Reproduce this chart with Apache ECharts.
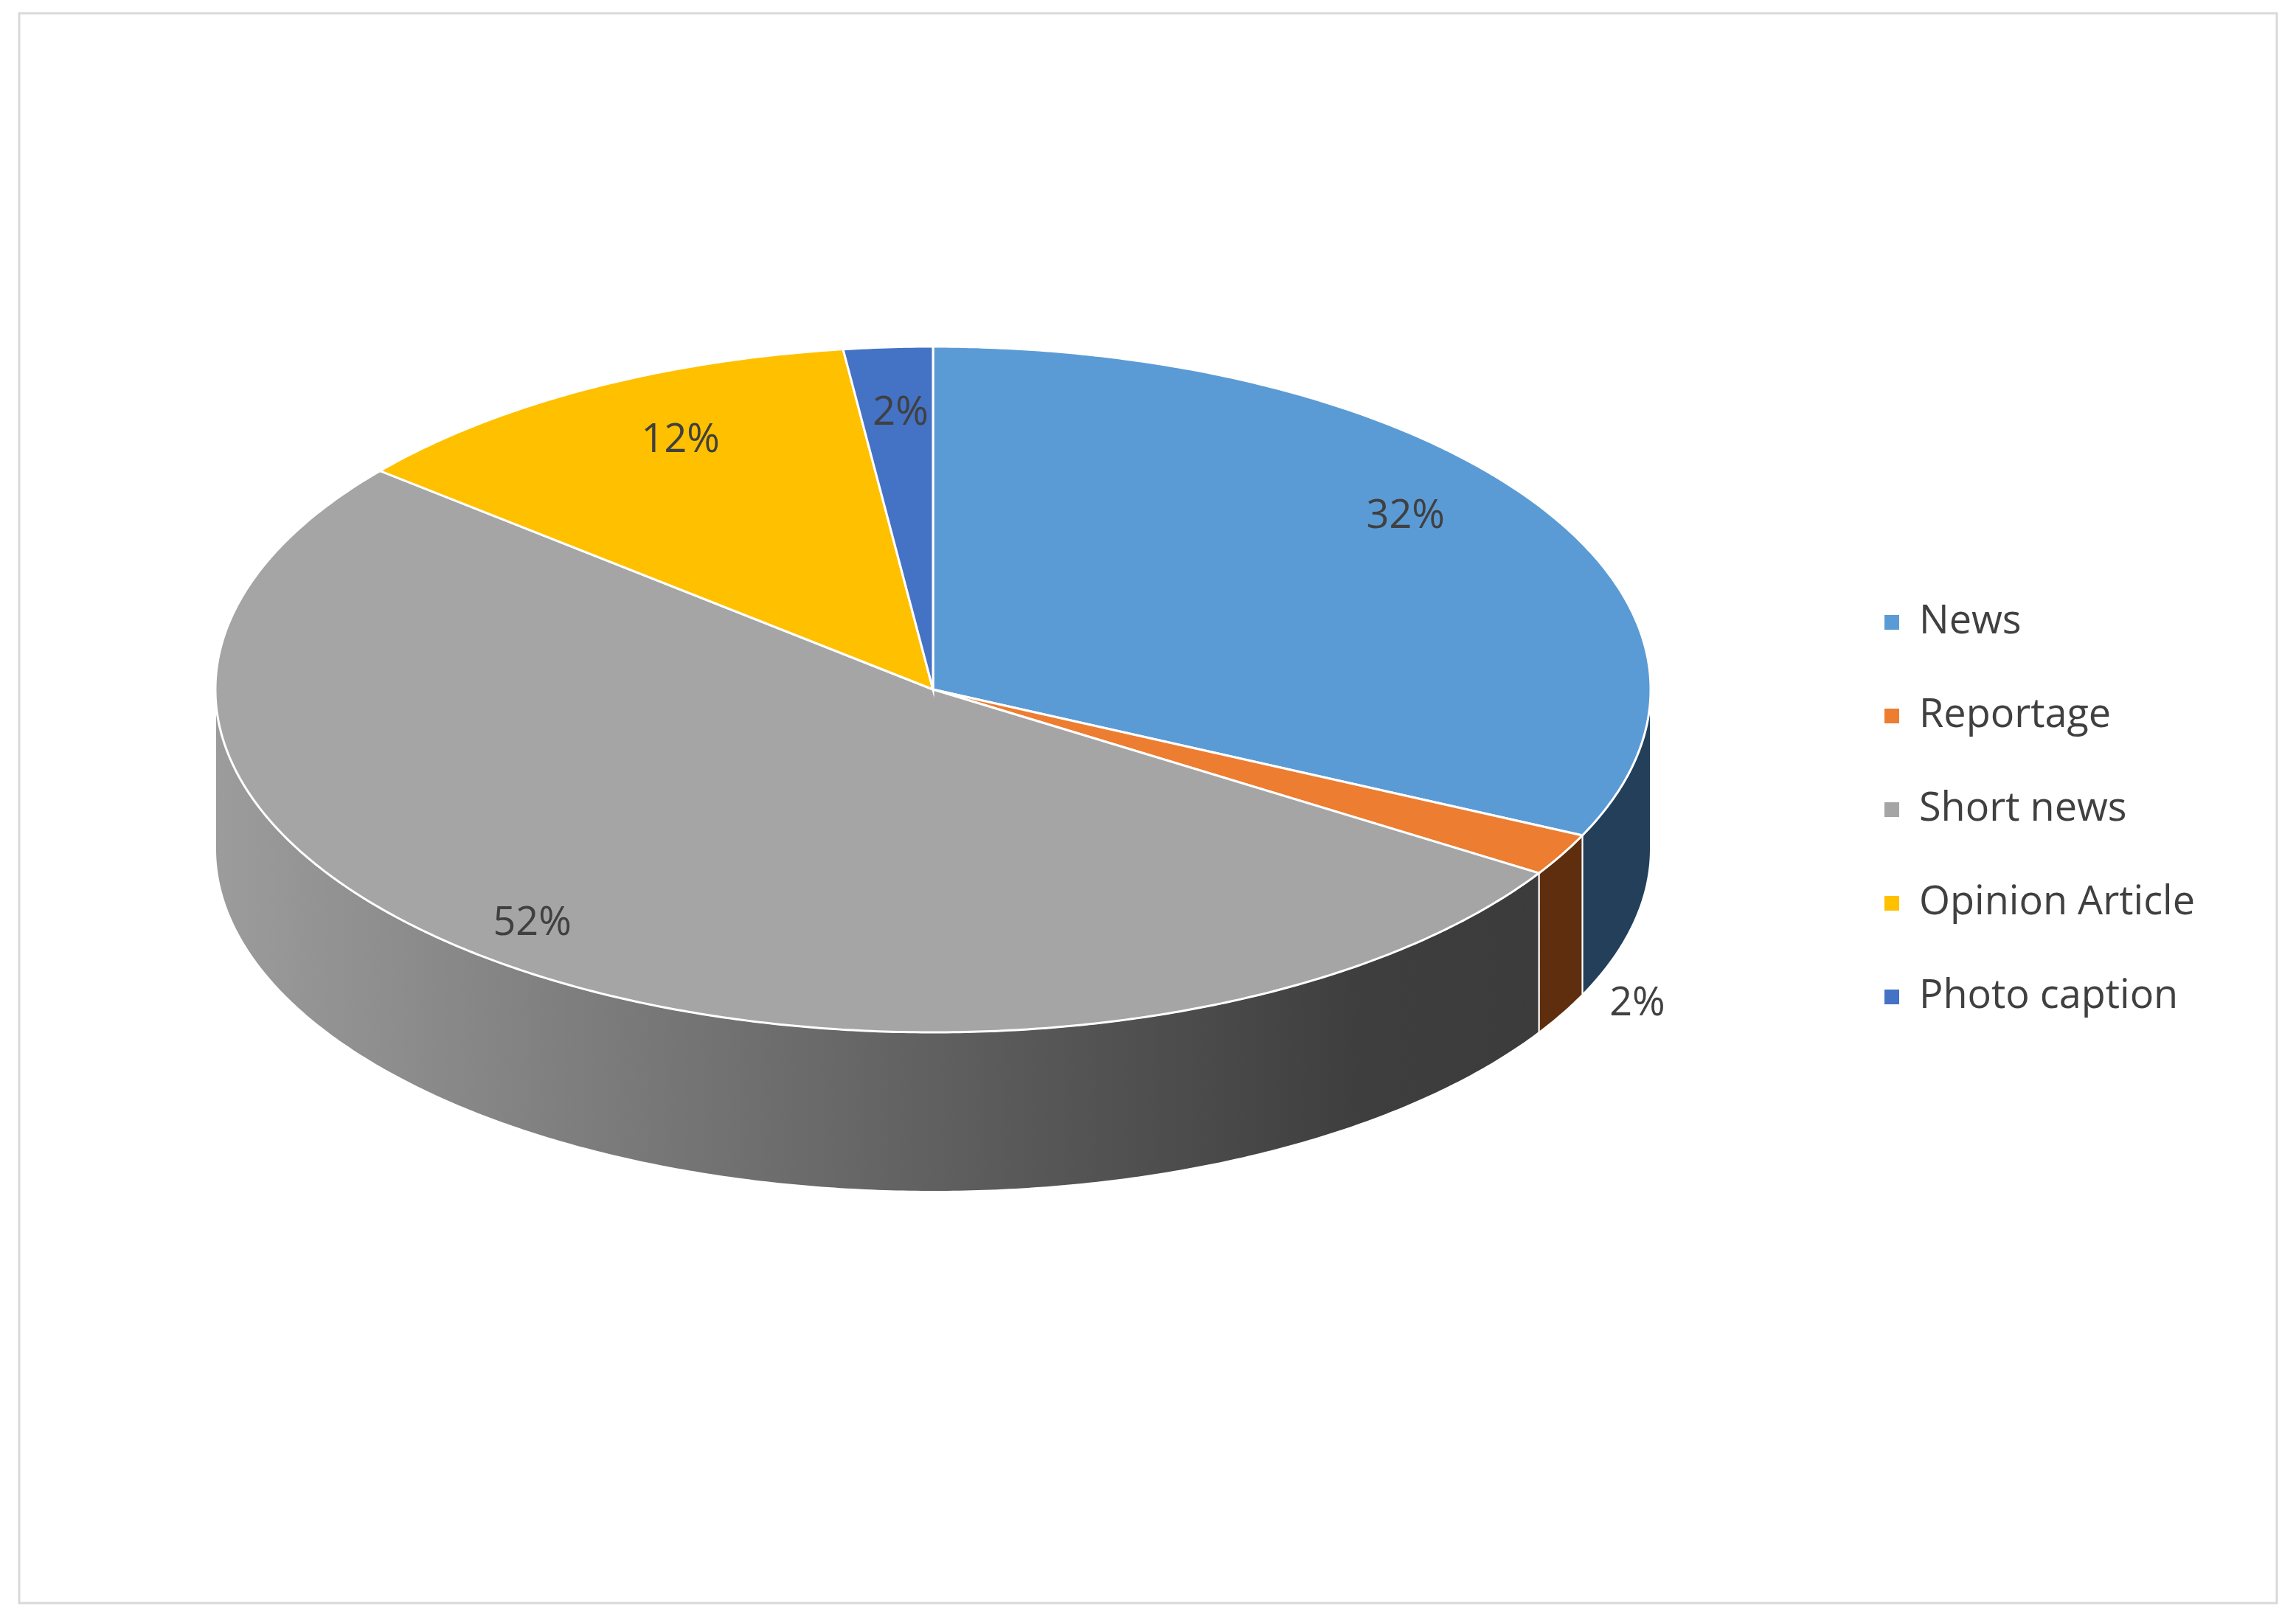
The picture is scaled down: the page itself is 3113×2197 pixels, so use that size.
<!DOCTYPE html>
<html><head><meta charset="utf-8">
<script src="https://cdn.jsdelivr.net/npm/echarts@6/dist/echarts.min.js"></script>
<style>html,body{margin:0;background:#fff}#c{width:3113px;height:2197px}</style>
</head><body><div id="c"></div>
<script>
const categories=['News','Reportage','Short news','Opinion Article','Photo caption'];
const values=[32,2,52,12,2];
const topColors=['#5B9BD5','#ED7D31','#A5A5A5','#FFC000','#4472C4'];
const sideColors=['#233F5A','#5F2E0E',null,'#6B5000','#1D3057'];
const labelR=[0.78,1.12,0.95,0.73,0.72];
const total=values.reduce((a,b)=>a+b,0);
const cx=1265,cy=935,rx=973,ry=465,dep=216,labelShift=-40;
function pt(t,off){const r=t*Math.PI/180;return [cx+rx*Math.sin(r),cy-ry*Math.cos(r)+(off||0)];}
function renderItem(params,api){
  const i=params.dataIndex;
  let s=0;for(let k=0;k<i;k++)s+=values[k];
  const a0=s/total*360,a1=(s+values[i])/total*360;
  const children=[];
  const b0=Math.max(a0,90),b1=Math.min(a1,270);
  if(b1>b0){
    const top=[],bot=[];
    for(let t=b0;t<b1;t+=0.5){top.push(pt(t));bot.push(pt(t,dep));}
    top.push(pt(b1));bot.push(pt(b1,dep));
    const fill=sideColors[i]||{type:'linear',x:cx-rx,y:0,x2:cx+rx,y2:0,global:true,
      colorStops:[{offset:0,color:'#9c9c9c'},{offset:0.55,color:'#5a5a5a'},{offset:0.8,color:'#3e3e3e'},{offset:1,color:'#3a3a3a'}]};
    children.push({type:'polygon',z2:0,shape:{points:top.concat(bot.reverse())},style:{fill:fill,stroke:'#fff',lineWidth:2}});
  }
  const pts=[[cx,cy]];
  for(let t=a0;t<a1;t+=0.5)pts.push(pt(t));
  pts.push(pt(a1));
  children.push({type:'polygon',z2:10,shape:{points:pts},style:{fill:topColors[i],stroke:'#fff',lineWidth:3}});
  const m=(a0+a1)/2*Math.PI/180,f=labelR[i];
  let lx=cx+rx*f*Math.sin(m),ly=cy+labelShift-ry*f*Math.cos(m);
  if(f>1)ly+=dep;
  children.push({type:'text',z2:20,style:{x:lx,y:ly,text:Math.round(values[i]/total*100)+'%',
    fill:'#404040',font:'54px "Open Sans", sans-serif',align:'center',verticalAlign:'middle'}});
  return {type:'group',children};
}
const chart=echarts.init(document.getElementById('c'));
chart.setOption({
  animation:false,
  graphic:[{type:'rect',shape:{x:26,y:18,width:3061,height:2156},style:{fill:'none',stroke:'#d9d9d9',lineWidth:3}}],
  legend:{orient:'vertical',left:2550,top:812,itemWidth:20,itemHeight:20,itemGap:73,icon:'rect',selectedMode:false,
    textStyle:{fontSize:54,color:'#404040',fontFamily:'Open Sans',padding:[0,0,0,22]},data:categories},
  series:[
    {type:'custom',coordinateSystem:'none',renderItem:renderItem,data:values,silent:true},
    {type:'pie',radius:[0,0],center:[-100,-100],label:{show:false},labelLine:{show:false},
     data:categories.map((c,i)=>({name:c,value:values[i],itemStyle:{color:topColors[i]}}))}
  ]
});
</script></body></html>
